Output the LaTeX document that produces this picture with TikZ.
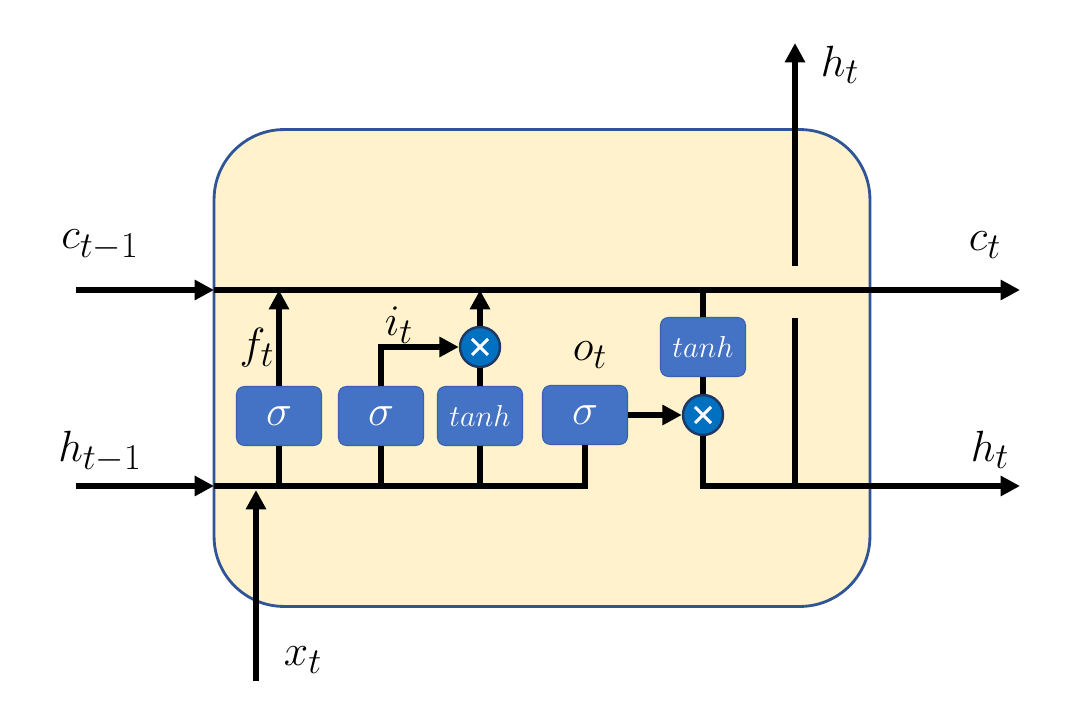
\documentclass[tikz,border=0pt]{standalone}
\usetikzlibrary{arrows.meta}
\definecolor{cellfill}{HTML}{FFF2CC}
\definecolor{cellborder}{HTML}{2F5597}
\definecolor{gatefill}{HTML}{4472C4}
\definecolor{gateborder}{HTML}{3A62AC}
\definecolor{mulfill}{HTML}{0070C0}
\definecolor{mulborder}{HTML}{1F3864}
\tikzset{
  wire/.style={line width=3pt, black},
  arr/.style={wire, -{Triangle[length=11pt,width=11pt]}},
  gate/.style={draw=gateborder, line width=0.6pt, fill=gatefill, rounded corners=4.5pt,
    minimum width=1.7cm, minimum height=1.18cm, inner sep=0pt, text=white},
  mul/.style={circle, draw=mulborder, line width=1.4pt, fill=mulfill, minimum size=0.8cm, inner sep=0pt},
  lbl/.style={inner sep=0pt, font=\fontsize{28}{32}\selectfont},
  sig/.style={font=\fontsize{23}{26}\selectfont},
  th/.style={font=\fontsize{17}{20}\selectfont},
}
\newcommand{\crossmark}[1]{%
  \draw[white, line width=1.8pt] ([shift={(-8,-8)}]#1.center) -- ([shift={(8,8)}]#1.center);
  \draw[white, line width=1.8pt] ([shift={(-8,8)}]#1.center) -- ([shift={(8,-8)}]#1.center);}
\begin{document}
\begin{tikzpicture}[x=0.02cm, y=-0.02cm]
\useasboundingbox (0,0) rectangle (1080,709);
% cell
\node[draw=cellborder, line width=1.6pt, fill=cellfill, rounded corners=1.4cm,
  minimum width=13.12cm, minimum height=9.54cm, inner sep=0pt] (cell) at (542,368) {};
% gates
\node[gate, sig] (f) at (279,416) {$\sigma$};
\node[gate, sig] (i) at (381,416) {$\sigma$};
\node[gate, th]  (t1) at (480,416) {$tanh$};
\node[gate, sig] (o) at (585,415) {$\sigma$};
\node[gate, th]  (t2) at (703,347) {$tanh$};
\node[mul] (m1) at (480,347) {};
\node[mul] (m2) at (703,415) {};
\crossmark{m1}
\crossmark{m2}
% coordinates
\coordinate (cin) at (76,290);
\coordinate (cleft) at (214,290);
\coordinate (cout) at (1020,290);
\coordinate (hin) at (76,486);
\coordinate (hleft) at (214,486);
\coordinate (hout) at (1020,486);
\coordinate (xin) at (256,681);
\coordinate (xtip) at (256,490);
\coordinate (hup) at (795,486);
\coordinate (hupend) at (795,318);
\coordinate (htop0) at (795,266);
\coordinate (htop) at (795,43);
% wires
\draw[arr] (cin) -- (cleft);
\draw[arr] (cleft) -- (cout);
\draw[arr] (hin) -- (hleft);
\draw[wire] (hleft) -- (o.south |- hleft) -- (o.south);
\draw[arr] (xin) -- (xtip);
\draw[wire] (f.south |- hleft) -- (f.south);
\draw[wire] (i.south |- hleft) -- (i.south);
\draw[wire] (t1.south |- hleft) -- (t1.south);
\draw[arr] (f.north) -- (f.north |- cleft);
\draw[arr] (i.north) |- (m1.west);
\draw[wire] (t1.north) -- (m1.south);
\draw[arr] (m1.north) -- (m1.north |- cleft);
\draw[arr] (o.east) -- (m2.west);
\draw[wire] (t2.north |- cleft) -- (t2.north);
\draw[wire] (t2.south) -- (m2.north);
\draw[arr] (m2.south) |- (hout);
\draw[wire] (hup) -- (hupend);
\draw[arr] (htop0) -- (htop);
% labels
\node[lbl] (lc0) at (100,245) {$c_{t-1}$};
\node[lbl] (lh0) at (100,452) {$h_{t-1}$};
\node[lbl] (lc1) at (985,245) {$c_t$};
\node[lbl] (lh1) at (990,450) {$h_t$};
\node[lbl] (lh2) at (840,65) {$h_t$};
\node[lbl] (lf) at (257,348) {$f_t$};
\node[lbl] (li) at (399,325) {$i_t$};
\node[lbl] (lo) at (590,355) {$o_t$};
\node[lbl] (lx) at (303,660) {$x_t$};
\end{tikzpicture}
\end{document}
